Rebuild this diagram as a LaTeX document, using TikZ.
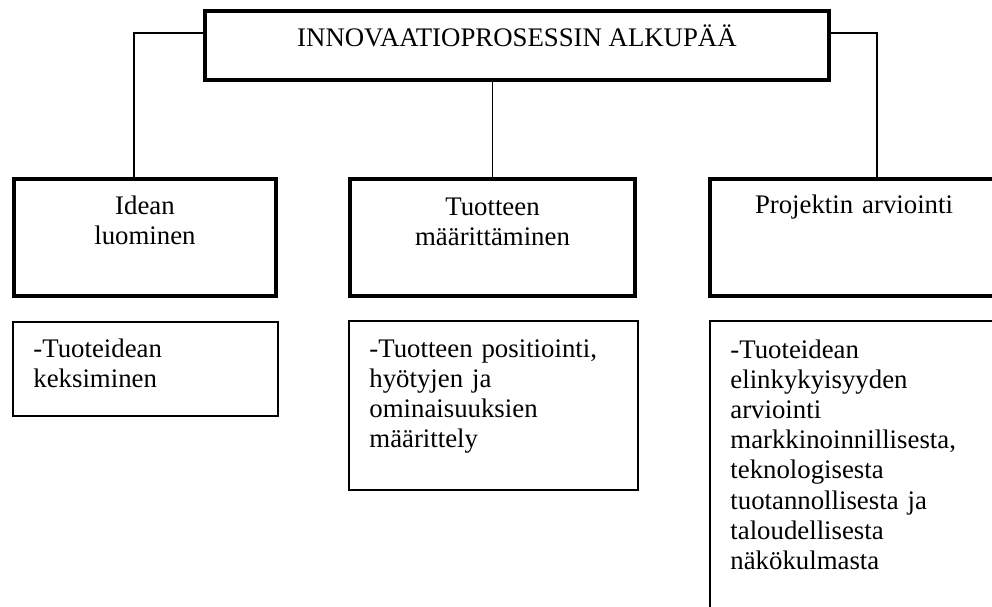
\documentclass[tikz,border=0pt]{standalone}
\usepackage{fontspec}
\setmainfont{Liberation Serif}
\begin{document}
\begin{tikzpicture}[x=0.5pt,y=-0.5pt,
  every node/.style={inner sep=0pt},
  headbox/.style={draw,line width=2.2pt,rectangle},
  notebox/.style={draw,line width=0.8pt,rectangle},
  conn/.style={line width=0.8pt},
  txt/.style={font=\fontsize{13.4pt}{15.1pt}\selectfont},
  ctxt/.style={txt,text width=140pt,align=center,anchor=base},
  ltxt/.style={txt,text width=125pt,align=left,anchor=base west}]
\useasboundingbox (0,0) rectangle (992,606);
\clip (0,0) rectangle (992,606);

% main heading
\node[headbox,minimum width=312pt,minimum height=34.5pt] (title) at (517,45.5) {};
\node[txt,anchor=base] (titletext) at (517,46) {INNOVAATIOPROSESSIN ALKUPÄÄ};

% three phase boxes
\node[headbox,minimum width=131pt,minimum height=58.5pt] (idea) at (145,237.5) {};
\node[headbox,minimum width=142.5pt,minimum height=58.5pt] (tuote) at (492.5,237.5) {};
\node[headbox,minimum width=144pt,minimum height=58.5pt] (proj) at (854,237.5) {};

\node[ctxt] (ideatext) at (145,214) {Idean\\luominen};
\node[ctxt] (tuotetext) at (492.5,215) {Tuotteen\\määrittäminen};
\node[ctxt] (projtext) at (854,213) {Projektin arviointi};

% connectors from the heading to the phases
\draw[conn] ([yshift=6.25pt]title.west) -| ([xshift=-5.5pt]idea.north);
\draw[conn] (tuote.north |- title.south) -- (tuote.north);
\draw[conn] ([yshift=6.25pt]title.east) -| ([xshift=11.5pt]proj.north);

% description boxes
\node[notebox,minimum width=132.5pt,minimum height=47pt] (ideanote) at (145.5,369) {};
\node[notebox,minimum width=144.5pt,minimum height=84.5pt] (tuotenote) at (493.5,405.5) {};
\node[notebox,minimum width=145pt,minimum height=189pt] (projnote) at (855,510) {};

\node[ltxt] (ideanotetext) at (33,357) {-Tuoteidean\\keksiminen};
\node[ltxt] (tuotenotetext) at (369,357) {-Tuotteen positiointi,\\hyötyjen ja\\ominaisuuksien\\määrittely};
\node[ltxt] (projnotetext) at (730,358) {-Tuoteidean\\elinkykyisyyden\\arviointi\\markkinoinnillisesta,\\teknologisesta\\tuotannollisesta ja\\taloudellisesta\\näkökulmasta};
\end{tikzpicture}
\end{document}
